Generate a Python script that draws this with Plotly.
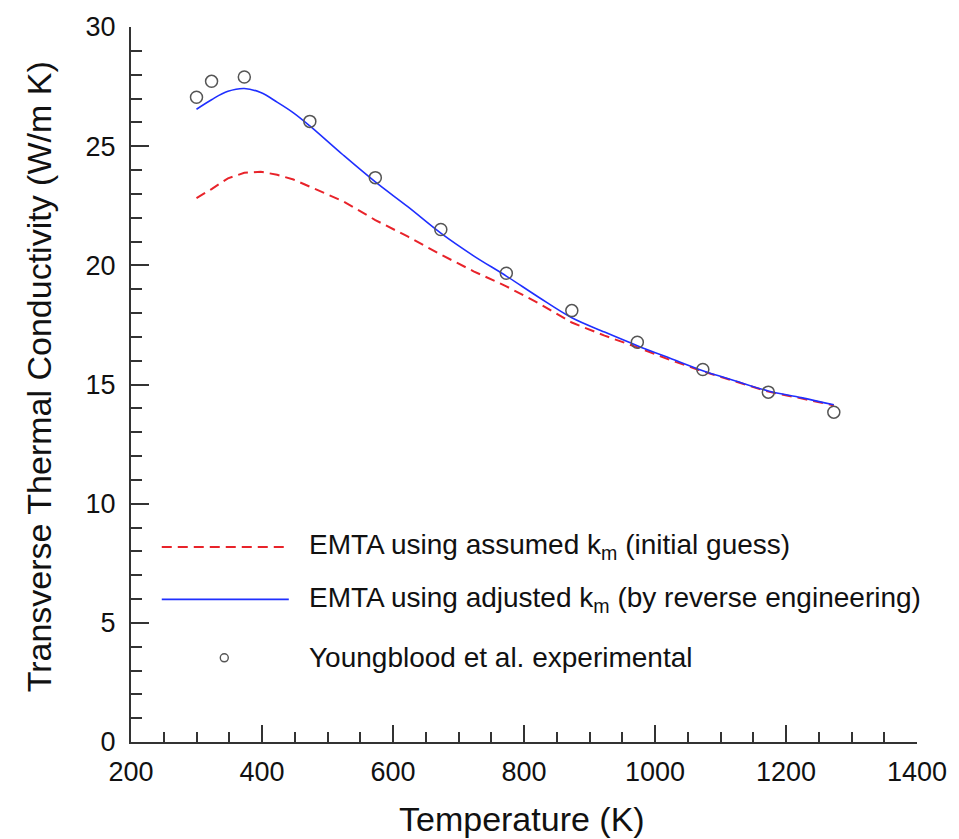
import plotly.graph_objects as go

# Experimental data (Youngblood et al.)
exp_T = [300, 323, 373, 473, 573, 673, 773, 873, 973, 1073, 1173, 1273]
exp_k = [27.05, 27.72, 27.9, 26.04, 23.68, 21.5, 19.67, 18.1, 16.77, 15.63, 14.68, 13.84]

# Model curves
curve_T = [300, 323, 348, 373, 398, 423, 448, 473, 523, 573, 623, 673, 723, 773,
           823, 873, 923, 973, 1023, 1073, 1123, 1173, 1223, 1273]
k_assumed = [22.82, 23.2, 23.65, 23.88, 23.93, 23.8, 23.6, 23.3, 22.7, 21.9, 21.2,
             20.45, 19.75, 19.12, 18.4, 17.6, 17.05, 16.56, 16.03, 15.55, 15.12,
             14.7, 14.42, 14.12]
k_adjusted = [26.55, 26.95, 27.3, 27.42, 27.25, 26.85, 26.4, 25.85, 24.65, 23.5,
              22.45, 21.35, 20.4, 19.55, 18.65, 17.8, 17.2, 16.63, 16.1, 15.58,
              15.15, 14.73, 14.45, 14.15]

legend_labels = [
    "EMTA using assumed k<sub>m</sub> (initial guess)",
    "EMTA using adjusted k<sub>m</sub> (by reverse engineering)",
    "Youngblood et al. experimental",
]

FONT = "Liberation Sans, Arial, sans-serif"
AX = "#333333"
DASH = "10px,6px"

fig = go.Figure()
fig.add_trace(go.Scatter(x=curve_T, y=k_assumed, mode="lines",
                         line=dict(color="#e8232a", width=2, dash=DASH),
                         showlegend=False))
fig.add_trace(go.Scatter(x=curve_T, y=k_adjusted, mode="lines",
                         line=dict(color="#1f2fff", width=1.6, shape="spline"),
                         showlegend=False))
fig.add_trace(go.Scatter(x=exp_T, y=exp_k, mode="markers",
                         marker=dict(symbol="circle-open", size=12,
                                     color="#555555", line=dict(width=1.5)),
                         showlegend=False))

# Legend drawn manually (long line samples like the original)
x0, x1, xt = (162 - 131) / 792, (290 - 131) / 792, (308 - 131) / 792
ys = [(742 - 545) / 722, (742 - 598) / 722, (742 - 657) / 722]
shapes = [
    dict(type="line", xref="paper", yref="paper", x0=x0, x1=x1, y0=ys[0], y1=ys[0],
         line=dict(color="#e8232a", width=2, dash=DASH)),
    dict(type="line", xref="paper", yref="paper", x0=x0, x1=x1, y0=ys[1], y1=ys[1],
         line=dict(color="#1f2fff", width=1.6)),
    dict(type="circle", xref="paper", yref="paper", xsizemode="pixel", ysizemode="pixel",
         xanchor=(225 - 131) / 792, yanchor=ys[2], x0=-4, x1=4, y0=-4, y1=4,
         line=dict(color="#555555", width=1.4)),
]
annotations = []
for lab, yy in zip(legend_labels, ys):
    annotations.append(dict(text=lab, xref="paper", yref="paper", x=xt, y=yy,
                            xanchor="left", yanchor="middle", showarrow=False,
                            font=dict(size=28, color="#111111", family=FONT)))

annotations.append(dict(text="Temperature (K)", xref="paper", yref="paper",
                        x=(525 - 131) / 792, y=(742 - 820) / 722,
                        xanchor="center", yanchor="middle",
                        showarrow=False, font=dict(size=34, color="#111111", family=FONT)))
annotations.append(dict(text="Transverse Thermal Conductivity (W/m K)", xref="paper",
                        yref="paper", x=(38 - 131) / 792, y=(742 - 373) / 722,
                        xanchor="center", yanchor="middle",
                        textangle=-90, showarrow=False,
                        font=dict(size=34, color="#111111", family=FONT)))

fig.update_layout(
    width=959, height=839,
    margin=dict(l=131, r=36, t=20, b=97),
    paper_bgcolor="white", plot_bgcolor="white",
    font=dict(family=FONT, size=27, color="#111111"),
    shapes=shapes, annotations=annotations,
    showlegend=False,
)
fig.update_xaxes(range=[200, 1400], dtick=200, tick0=200, showgrid=False, zeroline=False,
                 showline=True, linecolor=AX, linewidth=2,
                 ticks="inside", ticklen=17, tickwidth=1.5, tickcolor=AX,
                 ticklabelstandoff=5,
                 minor=dict(ticks="inside", ticklen=10, dtick=50, tick0=200,
                            tickwidth=1.5, tickcolor=AX, showgrid=False),
                 tickfont=dict(size=27))
fig.update_yaxes(range=[0, 30], dtick=5, tick0=0, showgrid=False, zeroline=False,
                 showline=True, linecolor=AX, linewidth=2,
                 ticks="inside", ticklen=18, tickwidth=1.5, tickcolor=AX,
                 ticklabelstandoff=8,
                 minor=dict(ticks="inside", ticklen=11, dtick=1, tick0=0,
                            tickwidth=1.5, tickcolor=AX, showgrid=False),
                 tickfont=dict(size=27))

fig.write_html("out.html")
